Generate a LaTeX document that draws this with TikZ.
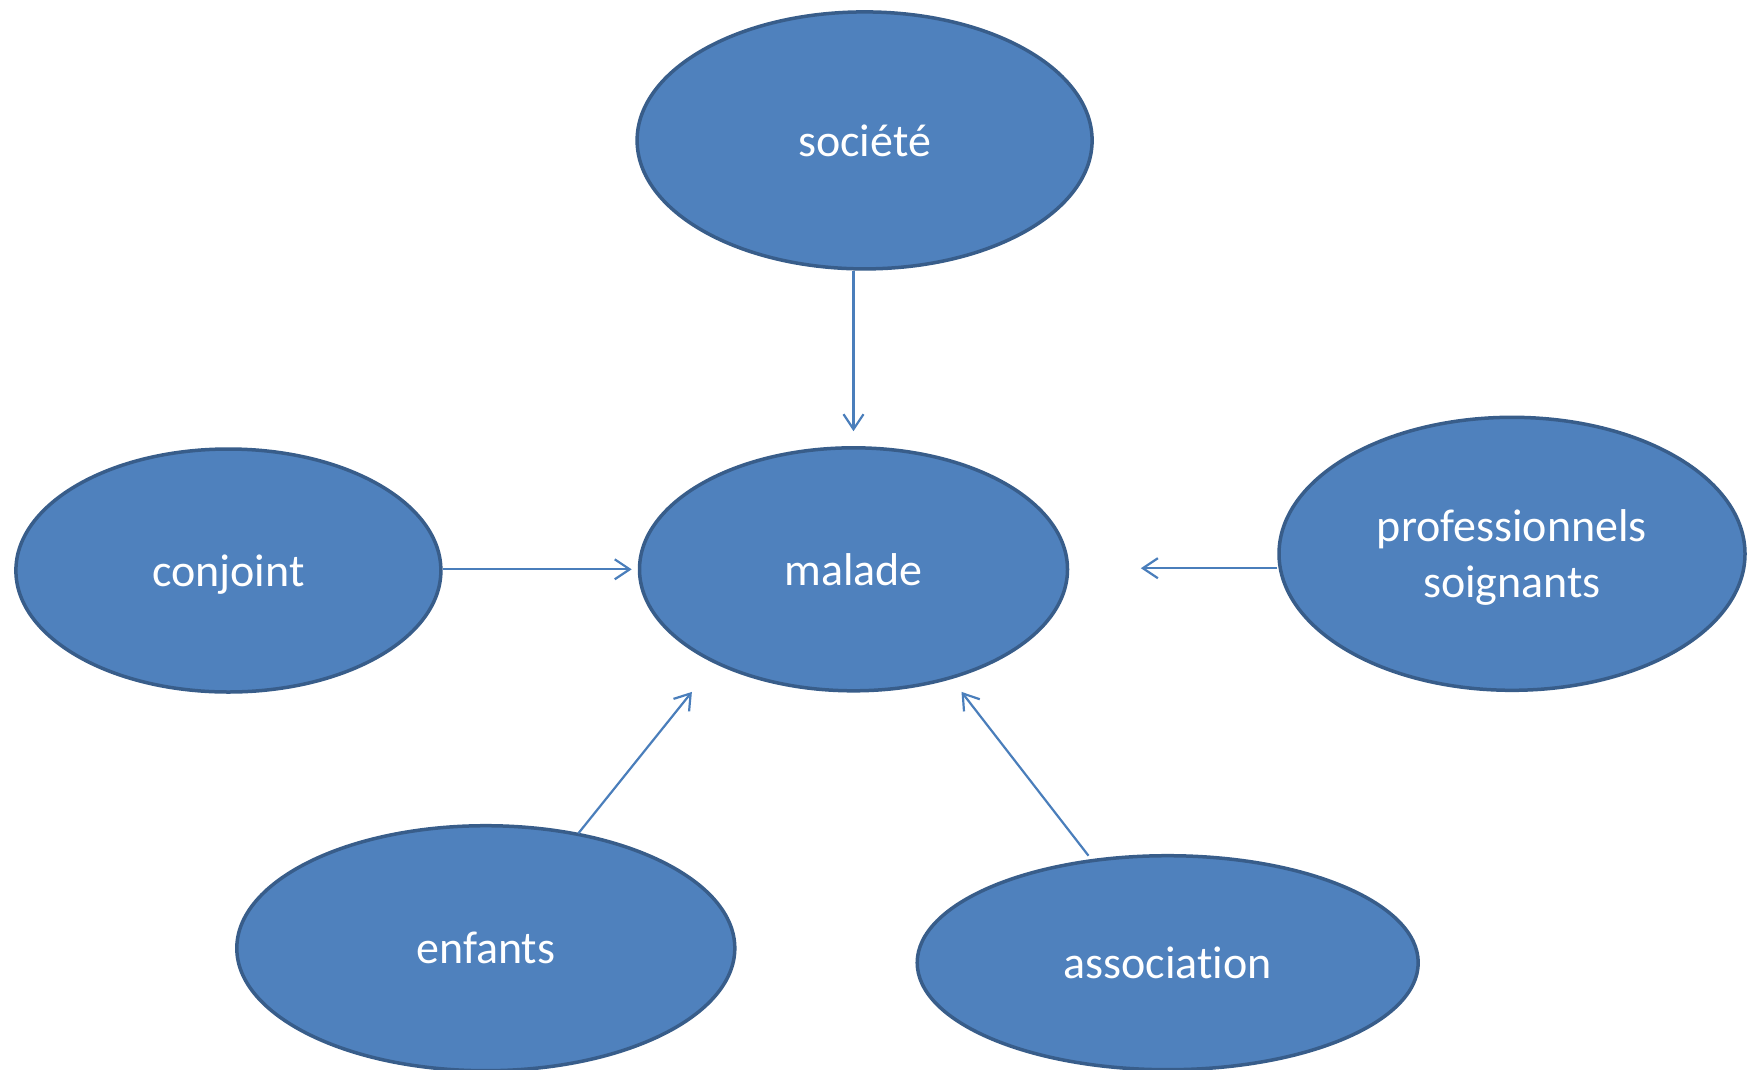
\documentclass[tikz,border=0pt]{standalone}
\usepackage{fontspec}
\setmainfont[Ligatures={NoCommon}]{Carlito}
\usetikzlibrary{shapes.geometric,arrows.meta}
\definecolor{fillblue}{HTML}{4F81BD}
\definecolor{edgeblue}{HTML}{385D8A}
\definecolor{arrowblue}{HTML}{4A7EBB}
\tikzset{
  bubble/.style={ellipse, fill=fillblue, draw=edgeblue, line width=3.5pt, inner sep=0pt,
    text=white, font=\fontsize{46}{56}\selectfont, align=center},
  link/.style={draw=arrowblue, line width=2.2pt, -{Straight Barb[length=15pt,width=20pt,line width=2.2pt]}}
}
\begin{document}
\begin{tikzpicture}[x=1pt,y=-1pt]
\useasboundingbox (0,0) rectangle (1747,1069);
\node[bubble, minimum width=455pt, minimum height=257pt] (soc) at (864.6,140.4) {société};
\node[bubble, minimum width=428pt, minimum height=243pt] (mal) at (853.5,569.3) {malade};
\node[bubble, minimum width=425pt, minimum height=243pt, text depth=0pt] (con) at (228.4,570.5) {conjoint};
\node[bubble, minimum width=466pt, minimum height=273pt, text depth=0pt] (pro) at (1512,553.8) {professionnels\\soignants};
\node[bubble, minimum width=498pt, minimum height=245pt] (enf) at (485.8,948.2) {enfants};
\node[bubble, minimum width=501pt, minimum height=214pt] (ass) at (1167.7,962.7) {association};
\coordinate (eSoc) at (853.5,431.2);
\coordinate (eCon) at (631.7,569.3);
\coordinate (ePro) at (1140.9,568.2);
\coordinate (eEnf) at (691.9,691.9);
\coordinate (eAss) at (961.5,691.9);
\coordinate (sEnf) at (578.3,833.4);
\coordinate (sAss) at (1088.5,855.7);
\draw[link] (soc.south -| eSoc) -- (eSoc);
\draw[link] (con.east |- eCon) -- (eCon);
\draw[link] (pro.west |- ePro) -- (ePro);
\draw[link] (sEnf) -- (eEnf);
\draw[link] (sAss) -- (eAss);
\end{tikzpicture}
\end{document}
